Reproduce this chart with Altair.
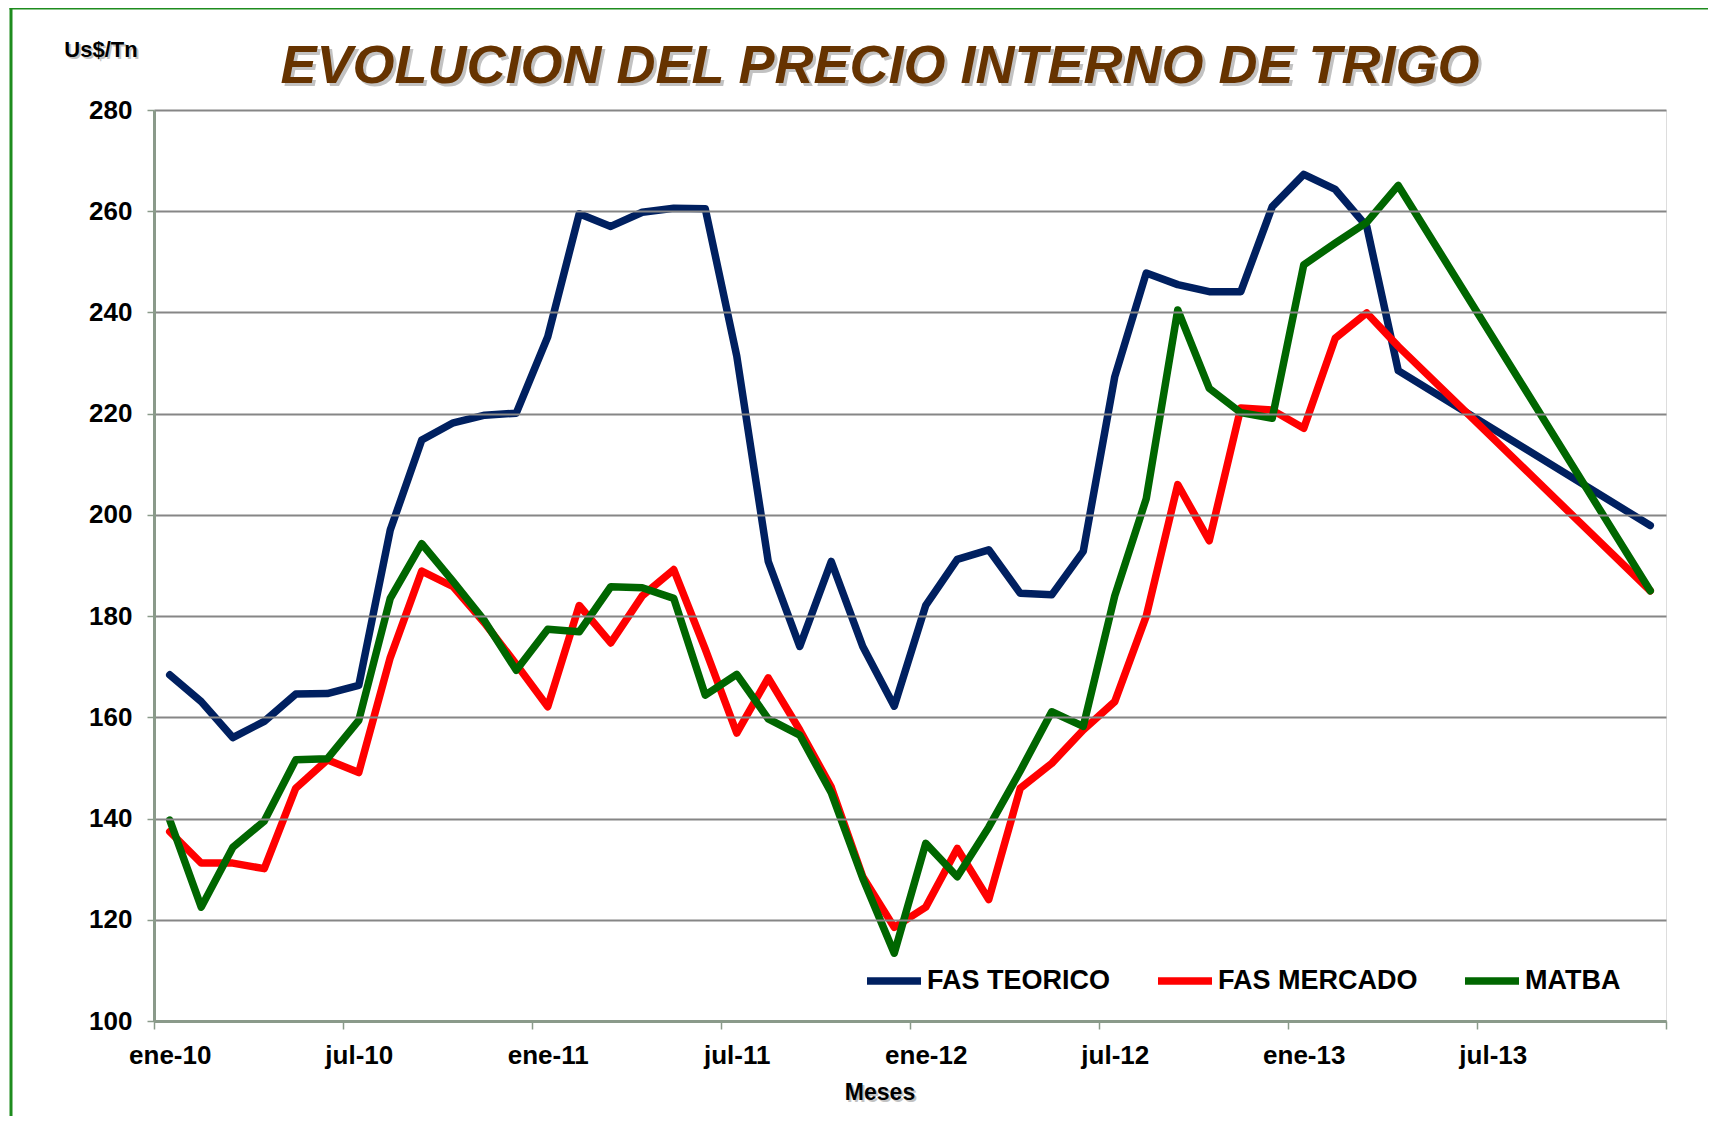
import altair as alt
import pandas as pd

# ---- data ----
meses = ["2010-01", "2010-02", "2010-03", "2010-04", "2010-05", "2010-06",
         "2010-07", "2010-08", "2010-09", "2010-10", "2010-11", "2010-12",
         "2011-01", "2011-02", "2011-03", "2011-04", "2011-05", "2011-06",
         "2011-07", "2011-08", "2011-09", "2011-10", "2011-11", "2011-12",
         "2012-01", "2012-02", "2012-03", "2012-04", "2012-05", "2012-06",
         "2012-07", "2012-08", "2012-09", "2012-10", "2012-11", "2012-12",
         "2013-01", "2013-02", "2013-03", "2013-04", "2013-12"]

fas_teorico = [168.4, 163.1, 156.0, 159.2, 164.6, 164.7, 166.3, 197.0, 214.8, 218.2,
               219.7, 220.1, 235.2, 259.5, 257.0, 259.8, 260.6, 260.5, 231.4, 190.8,
               174.0, 190.8, 174.0, 162.2, 182.1, 191.2, 193.1, 184.5, 184.2, 192.8,
               227.3, 247.8, 245.5, 244.1, 244.1, 260.9, 267.3, 264.3, 257.0, 228.5,
               197.9]

fas_mercado = [137.4, 131.2, 131.2, 130.1, 146.0, 151.6, 149.1, 171.8, 188.9, 185.8,
               178.6, 170.5, 162.1, 182.1, 174.7, 184.0, 189.2, 173.5, 156.9, 167.8,
               157.5, 146.2, 128.5, 118.5, 122.5, 134.1, 124.0, 146.0, 150.9, 157.5,
               163.1, 180.0, 206.0, 194.9, 221.1, 220.7, 217.1, 234.9, 239.9, 233.3,
               185.0]

matba = [139.7, 122.5, 134.3, 139.5, 151.6, 151.8, 159.4, 183.5, 194.3, 186.8,
         179.0, 169.3, 177.4, 176.9, 185.8, 185.6, 183.5, 164.4, 168.5, 159.7,
         156.5, 145.1, 128.2, 113.4, 135.1, 128.5, 138.3, 149.4, 161.1, 158.2,
         184.0, 203.2, 240.5, 225.0, 220.2, 219.1, 249.4, 253.7, 257.8, 265.1,
         185.0]

series_names = ["FAS TEORICO", "FAS MERCADO", "MATBA"]
series_colors = ["#002060", "#FF0000", "#006600"]
series_values = [fas_teorico, fas_mercado, matba]

y_ticks = [100, 120, 140, 160, 180, 200, 220, 240, 260, 280]

TITLE = "EVOLUCION DEL PRECIO INTERNO DE TRIGO"
Y_TITLE = "Us$/Tn"
X_TITLE = "Meses"


def month_index(s):
    y, m = s.split("-")
    return (int(y) - 2010) * 12 + int(m) - 1


rows = []
for name, vals in zip(series_names, series_values):
    for mes, v in zip(meses, vals):
        rows.append({"serie": name, "mes": mes, "idx": month_index(mes), "precio": v})
df = pd.DataFrame(rows)

# ---- layout (full-res pixels) ----
W, H = 1512, 911
month_px = W / 48.0
FONT = "Liberation Sans"

x_tick_vals = [-0.5 + 6 * k for k in range(9)]
label_expr = (
    "(datum.value + 0.5) >= 48 ? '' : "
    "((((datum.value + 0.5) % 12) == 0 ? 'ene-' : 'jul-') + "
    "format(10 + floor((datum.value + 0.5) / 12), 'd'))"
)

x_enc = alt.X(
    "idx:Q",
    scale=alt.Scale(domain=[-0.5, 47.5], nice=False, zero=False),
    axis=alt.Axis(
        values=x_tick_vals,
        labelExpr=label_expr,
        labelOffset=month_px / 2,
        labelFlush=False,
        labelOverlap=False,
        labelFont=FONT,
        labelFontSize=26,
        labelFontWeight="bold",
        labelColor="#000000",
        labelPadding=13,
        tickSize=8,
        tickWidth=1.5,
        tickColor="#8a9a8a",
        domainColor="#8a9a8a",
        domainWidth=3,
        grid=False,
        title=None,
        zindex=1,
    ),
)

y_enc = alt.Y(
    "precio:Q",
    scale=alt.Scale(domain=[100, 280], nice=False, zero=False),
    axis=alt.Axis(
        values=y_ticks,
        labelFont=FONT,
        labelFontSize=26,
        labelFontWeight="bold",
        labelColor="#000000",
        labelPadding=15,
        tickSize=7,
        tickWidth=1.5,
        tickColor="#8a9a8a",
        domainColor="#8a9a8a",
        domainWidth=3,
        grid=True,
        gridColor="#868686",
        gridWidth=1.8,
        title=None,
        zindex=1,
    ),
)

lines = alt.Chart(df).mark_line(
    strokeWidth=7.5, strokeCap="round", strokeJoin="round"
).encode(
    x=x_enc,
    y=y_enc,
    color=alt.Color(
        "serie:N",
        scale=alt.Scale(domain=series_names, range=series_colors),
        legend=alt.Legend(
            orient="none",
            legendX=709,
            legendY=840,
            direction="horizontal",
            title=None,
            symbolType="stroke",
            symbolSize=2916,
            symbolStrokeWidth=7.5,
            labelFont=FONT,
            labelFontSize=27,
            labelFontWeight="bold",
            labelColor="#000000",
            labelLimit=0,
            labelOffset=2,
            columnPadding=32,
            padding=0,
        ),
    ),
    order=alt.Order("idx:Q"),
)

ann = pd.DataFrame({"t": [TITLE], "u": [Y_TITLE], "m": [X_TITLE]})

title_shadow = alt.Chart(ann).mark_text(
    font=FONT, fontSize=54, fontWeight="bold", fontStyle="italic",
    color="#9a9a9a", opacity=0.6, align="center", baseline="alphabetic",
).encode(text="t:N", x=alt.value(726 + 3), y=alt.value(-27 + 3))

title_text = alt.Chart(ann).mark_text(
    font=FONT, fontSize=54, fontWeight="bold", fontStyle="italic",
    color="#663300", align="center", baseline="alphabetic",
).encode(text="t:N", x=alt.value(726), y=alt.value(-27))

ytitle_shadow = alt.Chart(ann).mark_text(
    font=FONT, fontSize=22, fontWeight="bold", color="#9a9a9a", opacity=0.6,
    align="center", baseline="alphabetic",
).encode(text="u:N", x=alt.value(-53 + 2), y=alt.value(-53 + 2))

ytitle_text = alt.Chart(ann).mark_text(
    font=FONT, fontSize=22, fontWeight="bold", color="#000000",
    align="center", baseline="alphabetic",
).encode(text="u:N", x=alt.value(-53), y=alt.value(-53))

xtitle_shadow = alt.Chart(ann).mark_text(
    font=FONT, fontSize=23, fontWeight="bold", color="#9a9a9a", opacity=0.6,
    align="center", baseline="alphabetic",
).encode(text="m:N", x=alt.value(726 + 2), y=alt.value(H + 79 + 2))

xtitle_text = alt.Chart(ann).mark_text(
    font=FONT, fontSize=23, fontWeight="bold", color="#000000",
    align="center", baseline="alphabetic",
).encode(text="m:N", x=alt.value(726), y=alt.value(H + 79))

frame_left = alt.Chart(ann).mark_rule(color="#1E8C1E", strokeWidth=3).encode(
    x=alt.value(-143), y=alt.value(-102), y2=alt.value(H + 95)
)
frame_top = alt.Chart(ann).mark_rule(color="#1E8C1E", strokeWidth=3).encode(
    x=alt.value(-144.5), x2=alt.value(W + 60), y=alt.value(-102)
)

chart = alt.layer(
    frame_left, frame_top,
    lines,
    title_shadow, title_text,
    ytitle_shadow, ytitle_text,
    xtitle_shadow, xtitle_text,
).properties(
    width=W,
    height=H,
    autosize=alt.AutoSizeParams(type="none"),
    padding={"left": 146, "top": 102, "right": 42, "bottom": 95},
).configure_view(
    stroke="#2A8A2A", strokeWidth=2.5
).configure(
    background="#FFFFFF"
)

chart.save("out.html", embed_options={"renderer": "svg", "actions": False})
